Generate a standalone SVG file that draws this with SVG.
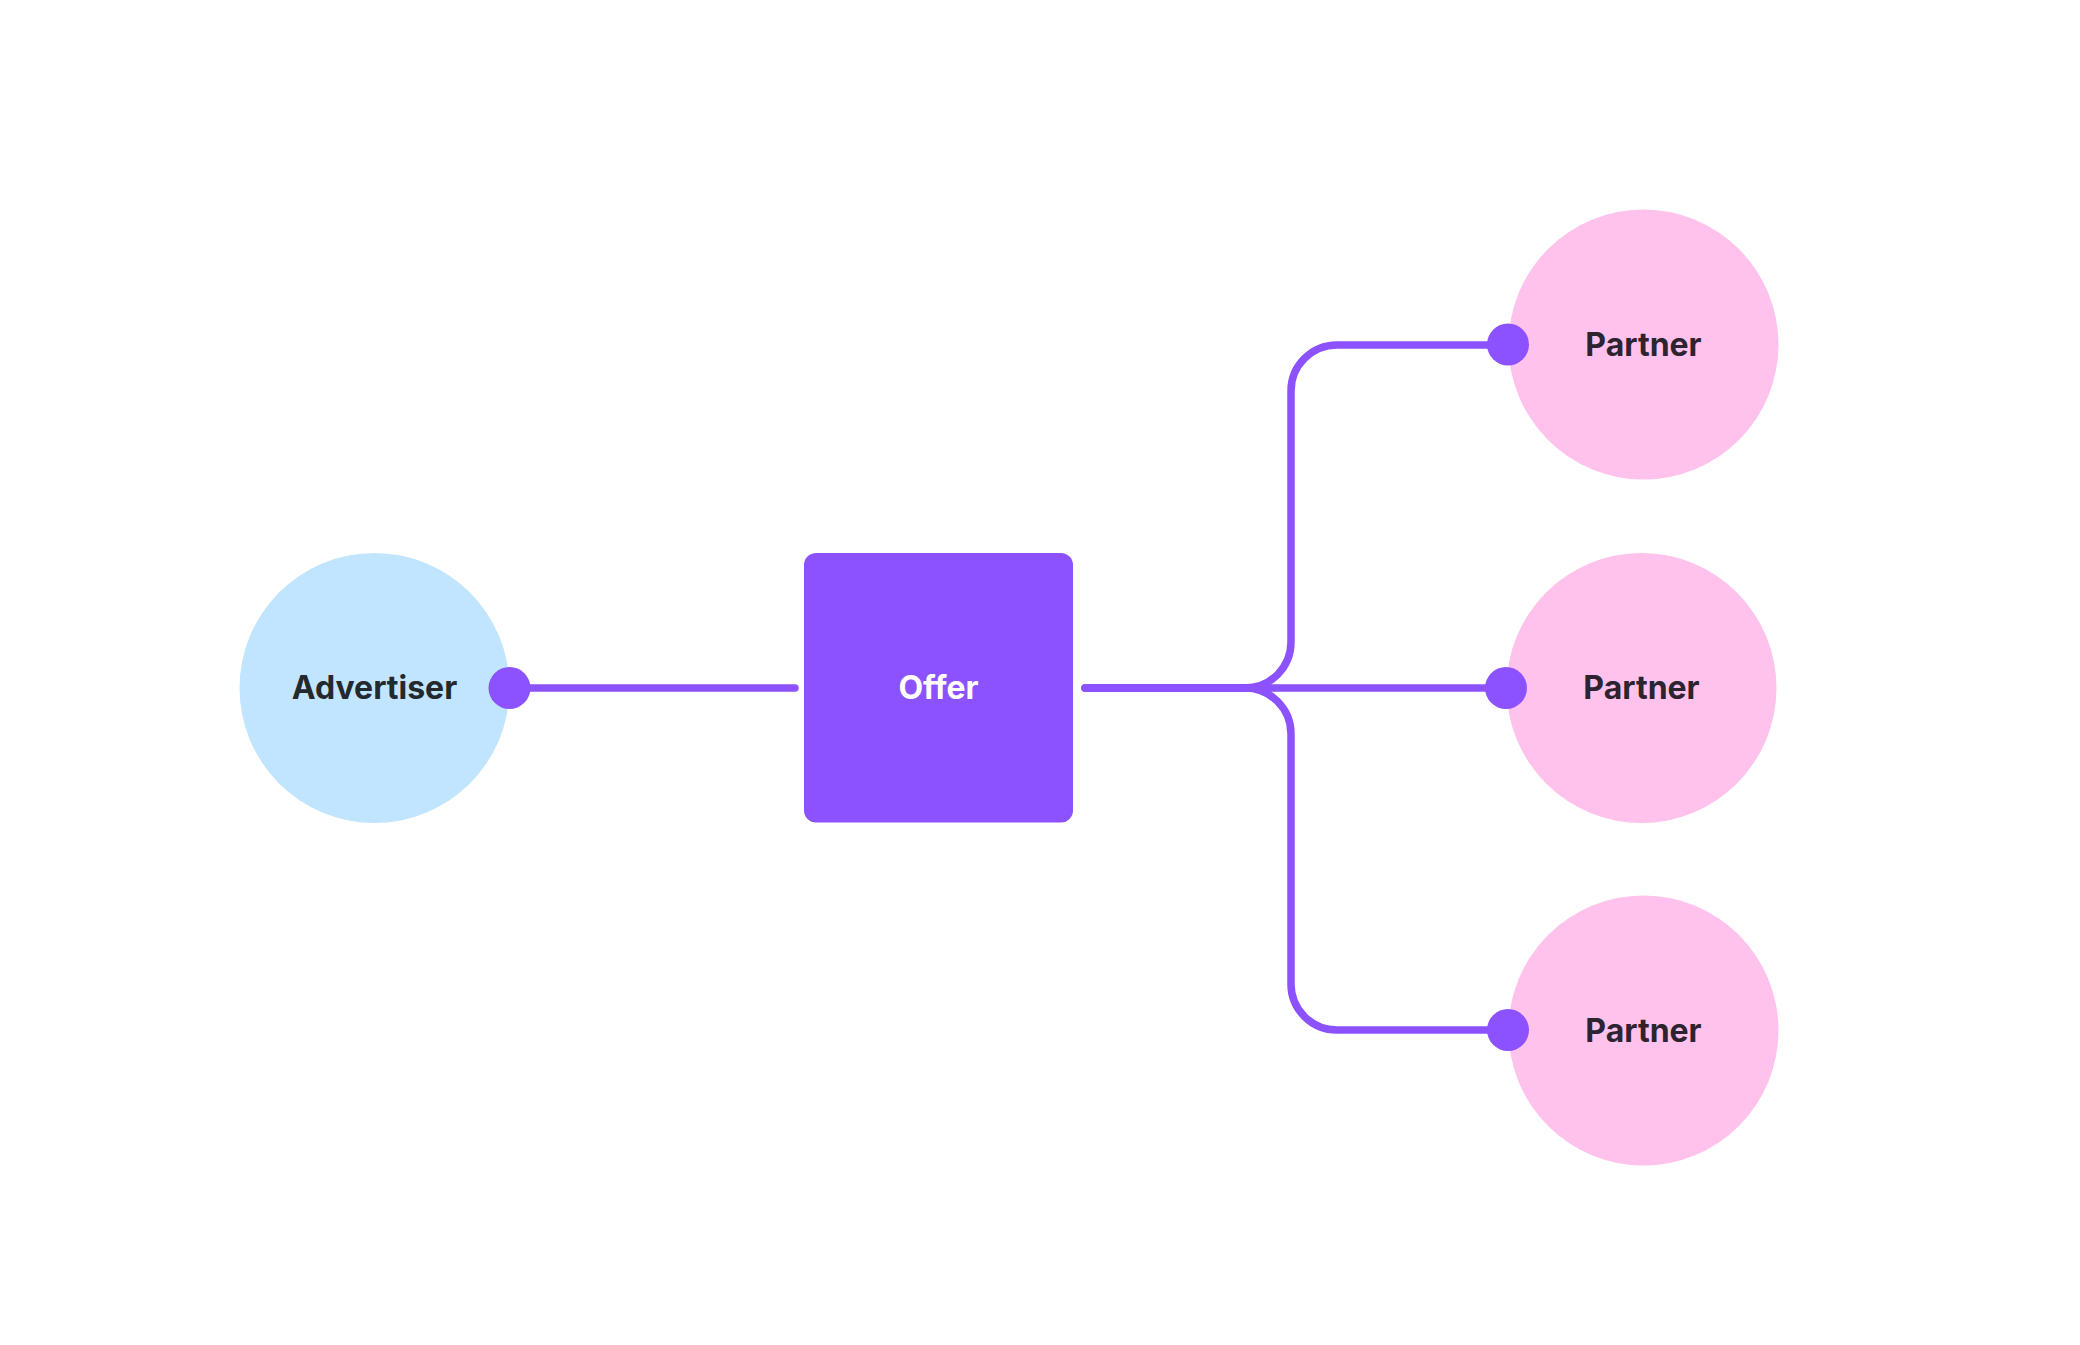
<svg xmlns="http://www.w3.org/2000/svg" width="2080" height="1345" viewBox="0 0 2080 1345">
<style>
.lbl{font-family:Inter,"Liberation Sans",sans-serif;font-weight:700;font-size:32px;text-anchor:middle}
.conn{fill:none;stroke:#8c52ff;stroke-width:7.5;stroke-linecap:round;stroke-linejoin:round}
.dot{fill:#8c52ff}
</style>
<rect width="2080" height="1345" fill="#ffffff"/>
<g id="advertiser">
<circle cx="374.5" cy="688" r="135" fill="#c2e5ff"/>
<text class="lbl" x="374.5" y="699" fill="#24292e">Advertiser</text>
</g>
<g id="offer">
<rect x="804" y="553" width="269" height="269.5" rx="12" fill="#8c52ff"/>
<text class="lbl" x="938.5" y="699" fill="#ffffff">Offer</text>
</g>
<g id="partner1">
<circle cx="1643.5" cy="344.5" r="135" fill="#ffc2ec"/>
<text class="lbl" x="1643.5" y="356" fill="#2d2430">Partner</text>
</g>
<g id="partner2">
<circle cx="1641.5" cy="688" r="135" fill="#ffc2ec"/>
<text class="lbl" x="1641.5" y="699" fill="#2d2430">Partner</text>
</g>
<g id="partner3">
<circle cx="1643.5" cy="1030.5" r="135" fill="#ffc2ec"/>
<text class="lbl" x="1643.5" y="1042" fill="#2d2430">Partner</text>
</g>
<g id="connectors">
<path class="conn" d="M509,688 H795"/>
<path class="conn" d="M1085,688 H1245 A46,46 0 0 0 1291,642 V391 A46,46 0 0 1 1337,345 H1508"/>
<path class="conn" d="M1085,688 H1506"/>
<path class="conn" d="M1085,688 H1245 A46,46 0 0 1 1291,734 V984 A46,46 0 0 0 1337,1030 H1508"/>
<circle class="dot" cx="509.5" cy="688" r="21"/>
<circle class="dot" cx="1508" cy="344.5" r="21"/>
<circle class="dot" cx="1506" cy="688" r="21"/>
<circle class="dot" cx="1508" cy="1030" r="21"/>
</g>
</svg>
